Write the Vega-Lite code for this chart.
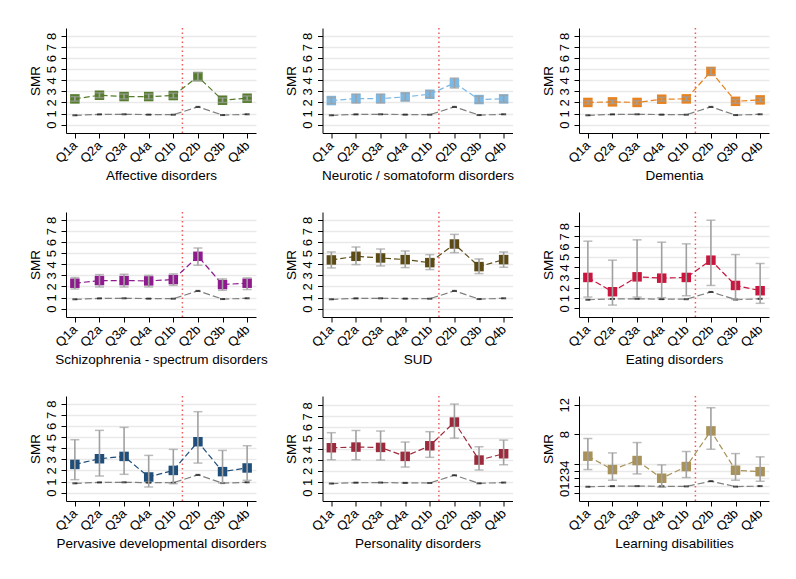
{
"$schema":"https://vega.github.io/schema/vega-lite/v6.json",
"background":"white",
"padding":{"left":28,"top":27,"right":5,"bottom":5},
"datasets":{
"vline":[{"pos":5.37}],
"ref":[
{"q":"Q1a","pos":1,"smr":0.84},{"q":"Q2a","pos":2,"smr":0.92},{"q":"Q3a","pos":3,"smr":0.93},{"q":"Q4a","pos":4,"smr":0.9},
{"q":"Q1b","pos":5,"smr":0.89},{"q":"Q2b","pos":6,"smr":1.6},{"q":"Q3b","pos":7,"smr":0.86},{"q":"Q4b","pos":8,"smr":0.93}],
"main":[
{"d":"Affective disorders","q":"Q1a","pos":1,"smr":2.32,"lo":2.12,"hi":2.52},
{"d":"Affective disorders","q":"Q2a","pos":2,"smr":2.65,"lo":2.43,"hi":2.87},
{"d":"Affective disorders","q":"Q3a","pos":3,"smr":2.53,"lo":2.32,"hi":2.75},
{"d":"Affective disorders","q":"Q4a","pos":4,"smr":2.53,"lo":2.32,"hi":2.75},
{"d":"Affective disorders","q":"Q1b","pos":5,"smr":2.62,"lo":2.4,"hi":2.84},
{"d":"Affective disorders","q":"Q2b","pos":6,"smr":4.33,"lo":3.98,"hi":4.7},
{"d":"Affective disorders","q":"Q3b","pos":7,"smr":2.2,"lo":2.0,"hi":2.4},
{"d":"Affective disorders","q":"Q4b","pos":8,"smr":2.38,"lo":2.18,"hi":2.58},
{"d":"Neurotic / somatoform disorders","q":"Q1a","pos":1,"smr":2.17,"lo":1.9,"hi":2.45},
{"d":"Neurotic / somatoform disorders","q":"Q2a","pos":2,"smr":2.35,"lo":1.95,"hi":2.75},
{"d":"Neurotic / somatoform disorders","q":"Q3a","pos":3,"smr":2.35,"lo":1.95,"hi":2.75},
{"d":"Neurotic / somatoform disorders","q":"Q4a","pos":4,"smr":2.5,"lo":2.15,"hi":2.85},
{"d":"Neurotic / somatoform disorders","q":"Q1b","pos":5,"smr":2.74,"lo":2.45,"hi":3.05},
{"d":"Neurotic / somatoform disorders","q":"Q2b","pos":6,"smr":3.76,"lo":3.3,"hi":4.2},
{"d":"Neurotic / somatoform disorders","q":"Q3b","pos":7,"smr":2.26,"lo":1.95,"hi":2.55},
{"d":"Neurotic / somatoform disorders","q":"Q4b","pos":8,"smr":2.32,"lo":2.0,"hi":2.65},
{"d":"Dementia","q":"Q1a","pos":1,"smr":2.0,"lo":1.85,"hi":2.15},
{"d":"Dementia","q":"Q2a","pos":2,"smr":2.05,"lo":1.9,"hi":2.2},
{"d":"Dementia","q":"Q3a","pos":3,"smr":2.0,"lo":1.85,"hi":2.15},
{"d":"Dementia","q":"Q4a","pos":4,"smr":2.29,"lo":2.12,"hi":2.46},
{"d":"Dementia","q":"Q1b","pos":5,"smr":2.32,"lo":2.15,"hi":2.5},
{"d":"Dementia","q":"Q2b","pos":6,"smr":4.8,"lo":4.5,"hi":5.1},
{"d":"Dementia","q":"Q3b","pos":7,"smr":2.1,"lo":1.93,"hi":2.27},
{"d":"Dementia","q":"Q4b","pos":8,"smr":2.23,"lo":2.06,"hi":2.4},
{"d":"Schizophrenia - spectrum disorders","q":"Q1a","pos":1,"smr":2.29,"lo":1.77,"hi":2.8},
{"d":"Schizophrenia - spectrum disorders","q":"Q2a","pos":2,"smr":2.53,"lo":1.95,"hi":3.07},
{"d":"Schizophrenia - spectrum disorders","q":"Q3a","pos":3,"smr":2.53,"lo":1.95,"hi":3.1},
{"d":"Schizophrenia - spectrum disorders","q":"Q4a","pos":4,"smr":2.5,"lo":1.95,"hi":3.0},
{"d":"Schizophrenia - spectrum disorders","q":"Q1b","pos":5,"smr":2.62,"lo":2.1,"hi":3.13},
{"d":"Schizophrenia - spectrum disorders","q":"Q2b","pos":6,"smr":4.72,"lo":3.91,"hi":5.47},
{"d":"Schizophrenia - spectrum disorders","q":"Q3b","pos":7,"smr":2.17,"lo":1.65,"hi":2.68},
{"d":"Schizophrenia - spectrum disorders","q":"Q4b","pos":8,"smr":2.29,"lo":1.72,"hi":2.77},
{"d":"SUD","q":"Q1a","pos":1,"smr":4.39,"lo":3.67,"hi":5.11},
{"d":"SUD","q":"Q2a","pos":2,"smr":4.72,"lo":3.97,"hi":5.56},
{"d":"SUD","q":"Q3a","pos":3,"smr":4.57,"lo":3.85,"hi":5.38},
{"d":"SUD","q":"Q4a","pos":4,"smr":4.42,"lo":3.7,"hi":5.2},
{"d":"SUD","q":"Q1b","pos":5,"smr":4.15,"lo":3.52,"hi":4.87},
{"d":"SUD","q":"Q2b","pos":6,"smr":5.83,"lo":5.05,"hi":6.7},
{"d":"SUD","q":"Q3b","pos":7,"smr":3.79,"lo":3.16,"hi":4.48},
{"d":"SUD","q":"Q4b","pos":8,"smr":4.42,"lo":3.73,"hi":5.11},
{"d":"Eating disorders","q":"Q1a","pos":1,"smr":3.01,"lo":1.1,"hi":6.54},
{"d":"Eating disorders","q":"Q2a","pos":2,"smr":1.62,"lo":0.32,"hi":4.69},
{"d":"Eating disorders","q":"Q3a","pos":3,"smr":3.07,"lo":1.1,"hi":6.67},
{"d":"Eating disorders","q":"Q4a","pos":4,"smr":2.94,"lo":1.04,"hi":6.44},
{"d":"Eating disorders","q":"Q1b","pos":5,"smr":3.01,"lo":1.23,"hi":6.28},
{"d":"Eating disorders","q":"Q2b","pos":6,"smr":4.69,"lo":2.23,"hi":8.58},
{"d":"Eating disorders","q":"Q3b","pos":7,"smr":2.23,"lo":0.87,"hi":5.24},
{"d":"Eating disorders","q":"Q4b","pos":8,"smr":1.72,"lo":0.49,"hi":4.37},
{"d":"Pervasive developmental disorders","q":"Q1a","pos":1,"smr":2.54,"lo":1.17,"hi":4.76},
{"d":"Pervasive developmental disorders","q":"Q2a","pos":2,"smr":3.05,"lo":1.5,"hi":5.6},
{"d":"Pervasive developmental disorders","q":"Q3a","pos":3,"smr":3.26,"lo":1.65,"hi":5.87},
{"d":"Pervasive developmental disorders","q":"Q4a","pos":4,"smr":1.41,"lo":0.51,"hi":3.35},
{"d":"Pervasive developmental disorders","q":"Q1b","pos":5,"smr":2.0,"lo":0.81,"hi":3.89},
{"d":"Pervasive developmental disorders","q":"Q2b","pos":6,"smr":4.58,"lo":2.66,"hi":7.28},
{"d":"Pervasive developmental disorders","q":"Q3b","pos":7,"smr":1.89,"lo":0.87,"hi":3.8},
{"d":"Pervasive developmental disorders","q":"Q4b","pos":8,"smr":2.22,"lo":1.11,"hi":4.22},
{"d":"Personality disorders","q":"Q1a","pos":1,"smr":4.12,"lo":3.02,"hi":5.5},
{"d":"Personality disorders","q":"Q2a","pos":2,"smr":4.18,"lo":3.02,"hi":5.7},
{"d":"Personality disorders","q":"Q3a","pos":3,"smr":4.15,"lo":2.99,"hi":5.65},
{"d":"Personality disorders","q":"Q4a","pos":4,"smr":3.33,"lo":2.35,"hi":4.64},
{"d":"Personality disorders","q":"Q1b","pos":5,"smr":4.3,"lo":3.24,"hi":5.59},
{"d":"Personality disorders","q":"Q2b","pos":6,"smr":6.47,"lo":5.0,"hi":8.12},
{"d":"Personality disorders","q":"Q3b","pos":7,"smr":2.99,"lo":2.08,"hi":4.21},
{"d":"Personality disorders","q":"Q4b","pos":8,"smr":3.57,"lo":2.56,"hi":4.82},
{"d":"Learning disabilities","q":"Q1a","pos":1,"smr":5.0,"lo":3.18,"hi":7.41},
{"d":"Learning disabilities","q":"Q2a","pos":2,"smr":3.18,"lo":1.73,"hi":5.45},
{"d":"Learning disabilities","q":"Q3a","pos":3,"smr":4.41,"lo":2.59,"hi":6.86},
{"d":"Learning disabilities","q":"Q4a","pos":4,"smr":2.0,"lo":0.77,"hi":3.82},
{"d":"Learning disabilities","q":"Q1b","pos":5,"smr":3.59,"lo":2.09,"hi":5.64},
{"d":"Learning disabilities","q":"Q2b","pos":6,"smr":8.45,"lo":5.95,"hi":11.6},
{"d":"Learning disabilities","q":"Q3b","pos":7,"smr":3.09,"lo":1.73,"hi":5.36},
{"d":"Learning disabilities","q":"Q4b","pos":8,"smr":2.9,"lo":1.59,"hi":4.91}
]},
"columns":3,
"spacing":{"column":66.5,"row":79},
"bounds":"flush",
"concat":[
{"width":190,"height":105,
"encoding":{"x":{"field":"pos","type":"quantitative","scale":{"domain":[0.64,8.36],"nice":false,"zero":false},"axis":{"values":[1,2,3,4,5,6,7,8],"labelExpr":"['','Q1a','Q2a','Q3a','Q4a','Q1b','Q2b','Q3b','Q4b'][datum.value]","title":"Affective disorders"}}},
"layer":[
{"data":{"name":"vline"},"mark":{"type":"rule","color":"#F25A5A","strokeDash":[1.5,3],"strokeWidth":1.5},"encoding":{}},
{"data":{"name":"ref"},"mark":{"type":"line","color":"#808080","strokeDash":[7,3],"strokeWidth":1.2},"encoding":{"y":{"field":"smr","type":"quantitative","scale":{"domain":[-0.76,8.72],"nice":false,"zero":false},"axis":{"values":[0,1,2,3,4,5,6,7,8]},"title":"SMR"}}},
{"data":{"name":"ref"},"mark":{"type":"tick","orient":"horizontal","color":"#111111","size":5,"thickness":2},"encoding":{"y":{"field":"smr","type":"quantitative","scale":{"domain":[-0.76,8.72],"nice":false,"zero":false},"axis":{"values":[0,1,2,3,4,5,6,7,8]},"title":"SMR"}}},
{"data":{"name":"main"},"transform":[{"filter":"datum.d=='Affective disorders'"}],"mark":{"type":"line","color":"#567D2E","strokeDash":[6,3],"strokeWidth":1.2},"encoding":{"y":{"field":"smr","type":"quantitative","scale":{"domain":[-0.76,8.72],"nice":false,"zero":false},"axis":{"values":[0,1,2,3,4,5,6,7,8]},"title":"SMR"}}},
{"data":{"name":"main"},"transform":[{"filter":"datum.d=='Affective disorders'"}],"mark":{"type":"point","shape":"square","filled":true,"opacity":1,"color":"#567D2E","size":90},"encoding":{"y":{"field":"smr","type":"quantitative","scale":{"domain":[-0.76,8.72],"nice":false,"zero":false},"axis":{"values":[0,1,2,3,4,5,6,7,8]},"title":"SMR"}}},
{"data":{"name":"main"},"transform":[{"filter":"datum.d=='Affective disorders'"}],"mark":{"type":"rule","color":"#A0A0A0","strokeWidth":1.6},"encoding":{"y":{"field":"lo","type":"quantitative","scale":{"domain":[-0.76,8.72],"nice":false,"zero":false},"axis":{"values":[0,1,2,3,4,5,6,7,8]},"title":"SMR"},"y2":{"field":"hi"}}},
{"data":{"name":"main"},"transform":[{"filter":"datum.d=='Affective disorders'"}],"mark":{"type":"tick","orient":"horizontal","color":"#A0A0A0","size":9,"thickness":1.5},"encoding":{"y":{"field":"lo","type":"quantitative","scale":{"domain":[-0.76,8.72],"nice":false,"zero":false},"axis":{"values":[0,1,2,3,4,5,6,7,8]},"title":"SMR"}}},
{"data":{"name":"main"},"transform":[{"filter":"datum.d=='Affective disorders'"}],"mark":{"type":"tick","orient":"horizontal","color":"#A0A0A0","size":9,"thickness":1.5},"encoding":{"y":{"field":"hi","type":"quantitative","scale":{"domain":[-0.76,8.72],"nice":false,"zero":false},"axis":{"values":[0,1,2,3,4,5,6,7,8]},"title":"SMR"}}}
]},
{"width":190,"height":105,
"encoding":{"x":{"field":"pos","type":"quantitative","scale":{"domain":[0.64,8.36],"nice":false,"zero":false},"axis":{"values":[1,2,3,4,5,6,7,8],"labelExpr":"['','Q1a','Q2a','Q3a','Q4a','Q1b','Q2b','Q3b','Q4b'][datum.value]","title":"Neurotic / somatoform disorders"}}},
"layer":[
{"data":{"name":"vline"},"mark":{"type":"rule","color":"#F25A5A","strokeDash":[1.5,3],"strokeWidth":1.5},"encoding":{}},
{"data":{"name":"ref"},"mark":{"type":"line","color":"#808080","strokeDash":[7,3],"strokeWidth":1.2},"encoding":{"y":{"field":"smr","type":"quantitative","scale":{"domain":[-0.76,8.72],"nice":false,"zero":false},"axis":{"values":[0,1,2,3,4,5,6,7,8]},"title":"SMR"}}},
{"data":{"name":"ref"},"mark":{"type":"tick","orient":"horizontal","color":"#111111","size":5,"thickness":2},"encoding":{"y":{"field":"smr","type":"quantitative","scale":{"domain":[-0.76,8.72],"nice":false,"zero":false},"axis":{"values":[0,1,2,3,4,5,6,7,8]},"title":"SMR"}}},
{"data":{"name":"main"},"transform":[{"filter":"datum.d=='Neurotic / somatoform disorders'"}],"mark":{"type":"line","color":"#7DB8E3","strokeDash":[6,3],"strokeWidth":1.2},"encoding":{"y":{"field":"smr","type":"quantitative","scale":{"domain":[-0.76,8.72],"nice":false,"zero":false},"axis":{"values":[0,1,2,3,4,5,6,7,8]},"title":"SMR"}}},
{"data":{"name":"main"},"transform":[{"filter":"datum.d=='Neurotic / somatoform disorders'"}],"mark":{"type":"point","shape":"square","filled":true,"opacity":1,"color":"#7DB8E3","size":90},"encoding":{"y":{"field":"smr","type":"quantitative","scale":{"domain":[-0.76,8.72],"nice":false,"zero":false},"axis":{"values":[0,1,2,3,4,5,6,7,8]},"title":"SMR"}}},
{"data":{"name":"main"},"transform":[{"filter":"datum.d=='Neurotic / somatoform disorders'"}],"mark":{"type":"rule","color":"#A0A0A0","strokeWidth":1.6},"encoding":{"y":{"field":"lo","type":"quantitative","scale":{"domain":[-0.76,8.72],"nice":false,"zero":false},"axis":{"values":[0,1,2,3,4,5,6,7,8]},"title":"SMR"},"y2":{"field":"hi"}}},
{"data":{"name":"main"},"transform":[{"filter":"datum.d=='Neurotic / somatoform disorders'"}],"mark":{"type":"tick","orient":"horizontal","color":"#A0A0A0","size":9,"thickness":1.5},"encoding":{"y":{"field":"lo","type":"quantitative","scale":{"domain":[-0.76,8.72],"nice":false,"zero":false},"axis":{"values":[0,1,2,3,4,5,6,7,8]},"title":"SMR"}}},
{"data":{"name":"main"},"transform":[{"filter":"datum.d=='Neurotic / somatoform disorders'"}],"mark":{"type":"tick","orient":"horizontal","color":"#A0A0A0","size":9,"thickness":1.5},"encoding":{"y":{"field":"hi","type":"quantitative","scale":{"domain":[-0.76,8.72],"nice":false,"zero":false},"axis":{"values":[0,1,2,3,4,5,6,7,8]},"title":"SMR"}}}
]},
{"width":190,"height":105,
"encoding":{"x":{"field":"pos","type":"quantitative","scale":{"domain":[0.64,8.36],"nice":false,"zero":false},"axis":{"values":[1,2,3,4,5,6,7,8],"labelExpr":"['','Q1a','Q2a','Q3a','Q4a','Q1b','Q2b','Q3b','Q4b'][datum.value]","title":"Dementia"}}},
"layer":[
{"data":{"name":"vline"},"mark":{"type":"rule","color":"#F25A5A","strokeDash":[1.5,3],"strokeWidth":1.5},"encoding":{}},
{"data":{"name":"ref"},"mark":{"type":"line","color":"#808080","strokeDash":[7,3],"strokeWidth":1.2},"encoding":{"y":{"field":"smr","type":"quantitative","scale":{"domain":[-0.76,8.72],"nice":false,"zero":false},"axis":{"values":[0,1,2,3,4,5,6,7,8]},"title":"SMR"}}},
{"data":{"name":"ref"},"mark":{"type":"tick","orient":"horizontal","color":"#111111","size":5,"thickness":2},"encoding":{"y":{"field":"smr","type":"quantitative","scale":{"domain":[-0.76,8.72],"nice":false,"zero":false},"axis":{"values":[0,1,2,3,4,5,6,7,8]},"title":"SMR"}}},
{"data":{"name":"main"},"transform":[{"filter":"datum.d=='Dementia'"}],"mark":{"type":"line","color":"#E8821E","strokeDash":[6,3],"strokeWidth":1.2},"encoding":{"y":{"field":"smr","type":"quantitative","scale":{"domain":[-0.76,8.72],"nice":false,"zero":false},"axis":{"values":[0,1,2,3,4,5,6,7,8]},"title":"SMR"}}},
{"data":{"name":"main"},"transform":[{"filter":"datum.d=='Dementia'"}],"mark":{"type":"point","shape":"square","filled":true,"opacity":1,"color":"#E8821E","size":90},"encoding":{"y":{"field":"smr","type":"quantitative","scale":{"domain":[-0.76,8.72],"nice":false,"zero":false},"axis":{"values":[0,1,2,3,4,5,6,7,8]},"title":"SMR"}}},
{"data":{"name":"main"},"transform":[{"filter":"datum.d=='Dementia'"}],"mark":{"type":"rule","color":"#A0A0A0","strokeWidth":1.6},"encoding":{"y":{"field":"lo","type":"quantitative","scale":{"domain":[-0.76,8.72],"nice":false,"zero":false},"axis":{"values":[0,1,2,3,4,5,6,7,8]},"title":"SMR"},"y2":{"field":"hi"}}},
{"data":{"name":"main"},"transform":[{"filter":"datum.d=='Dementia'"}],"mark":{"type":"tick","orient":"horizontal","color":"#A0A0A0","size":9,"thickness":1.5},"encoding":{"y":{"field":"lo","type":"quantitative","scale":{"domain":[-0.76,8.72],"nice":false,"zero":false},"axis":{"values":[0,1,2,3,4,5,6,7,8]},"title":"SMR"}}},
{"data":{"name":"main"},"transform":[{"filter":"datum.d=='Dementia'"}],"mark":{"type":"tick","orient":"horizontal","color":"#A0A0A0","size":9,"thickness":1.5},"encoding":{"y":{"field":"hi","type":"quantitative","scale":{"domain":[-0.76,8.72],"nice":false,"zero":false},"axis":{"values":[0,1,2,3,4,5,6,7,8]},"title":"SMR"}}}
]},
{"width":190,"height":105,
"encoding":{"x":{"field":"pos","type":"quantitative","scale":{"domain":[0.64,8.36],"nice":false,"zero":false},"axis":{"values":[1,2,3,4,5,6,7,8],"labelExpr":"['','Q1a','Q2a','Q3a','Q4a','Q1b','Q2b','Q3b','Q4b'][datum.value]","title":"Schizophrenia - spectrum disorders"}}},
"layer":[
{"data":{"name":"vline"},"mark":{"type":"rule","color":"#F25A5A","strokeDash":[1.5,3],"strokeWidth":1.5},"encoding":{}},
{"data":{"name":"ref"},"mark":{"type":"line","color":"#808080","strokeDash":[7,3],"strokeWidth":1.2},"encoding":{"y":{"field":"smr","type":"quantitative","scale":{"domain":[-0.76,8.72],"nice":false,"zero":false},"axis":{"values":[0,1,2,3,4,5,6,7,8]},"title":"SMR"}}},
{"data":{"name":"ref"},"mark":{"type":"tick","orient":"horizontal","color":"#111111","size":5,"thickness":2},"encoding":{"y":{"field":"smr","type":"quantitative","scale":{"domain":[-0.76,8.72],"nice":false,"zero":false},"axis":{"values":[0,1,2,3,4,5,6,7,8]},"title":"SMR"}}},
{"data":{"name":"main"},"transform":[{"filter":"datum.d=='Schizophrenia - spectrum disorders'"}],"mark":{"type":"line","color":"#8E1A8E","strokeDash":[6,3],"strokeWidth":1.2},"encoding":{"y":{"field":"smr","type":"quantitative","scale":{"domain":[-0.76,8.72],"nice":false,"zero":false},"axis":{"values":[0,1,2,3,4,5,6,7,8]},"title":"SMR"}}},
{"data":{"name":"main"},"transform":[{"filter":"datum.d=='Schizophrenia - spectrum disorders'"}],"mark":{"type":"point","shape":"square","filled":true,"opacity":1,"color":"#8E1A8E","size":90},"encoding":{"y":{"field":"smr","type":"quantitative","scale":{"domain":[-0.76,8.72],"nice":false,"zero":false},"axis":{"values":[0,1,2,3,4,5,6,7,8]},"title":"SMR"}}},
{"data":{"name":"main"},"transform":[{"filter":"datum.d=='Schizophrenia - spectrum disorders'"}],"mark":{"type":"rule","color":"#A0A0A0","strokeWidth":1.6},"encoding":{"y":{"field":"lo","type":"quantitative","scale":{"domain":[-0.76,8.72],"nice":false,"zero":false},"axis":{"values":[0,1,2,3,4,5,6,7,8]},"title":"SMR"},"y2":{"field":"hi"}}},
{"data":{"name":"main"},"transform":[{"filter":"datum.d=='Schizophrenia - spectrum disorders'"}],"mark":{"type":"tick","orient":"horizontal","color":"#A0A0A0","size":9,"thickness":1.5},"encoding":{"y":{"field":"lo","type":"quantitative","scale":{"domain":[-0.76,8.72],"nice":false,"zero":false},"axis":{"values":[0,1,2,3,4,5,6,7,8]},"title":"SMR"}}},
{"data":{"name":"main"},"transform":[{"filter":"datum.d=='Schizophrenia - spectrum disorders'"}],"mark":{"type":"tick","orient":"horizontal","color":"#A0A0A0","size":9,"thickness":1.5},"encoding":{"y":{"field":"hi","type":"quantitative","scale":{"domain":[-0.76,8.72],"nice":false,"zero":false},"axis":{"values":[0,1,2,3,4,5,6,7,8]},"title":"SMR"}}}
]},
{"width":190,"height":105,
"encoding":{"x":{"field":"pos","type":"quantitative","scale":{"domain":[0.64,8.36],"nice":false,"zero":false},"axis":{"values":[1,2,3,4,5,6,7,8],"labelExpr":"['','Q1a','Q2a','Q3a','Q4a','Q1b','Q2b','Q3b','Q4b'][datum.value]","title":"SUD"}}},
"layer":[
{"data":{"name":"vline"},"mark":{"type":"rule","color":"#F25A5A","strokeDash":[1.5,3],"strokeWidth":1.5},"encoding":{}},
{"data":{"name":"ref"},"mark":{"type":"line","color":"#808080","strokeDash":[7,3],"strokeWidth":1.2},"encoding":{"y":{"field":"smr","type":"quantitative","scale":{"domain":[-0.76,8.72],"nice":false,"zero":false},"axis":{"values":[0,1,2,3,4,5,6,7,8]},"title":"SMR"}}},
{"data":{"name":"ref"},"mark":{"type":"tick","orient":"horizontal","color":"#111111","size":5,"thickness":2},"encoding":{"y":{"field":"smr","type":"quantitative","scale":{"domain":[-0.76,8.72],"nice":false,"zero":false},"axis":{"values":[0,1,2,3,4,5,6,7,8]},"title":"SMR"}}},
{"data":{"name":"main"},"transform":[{"filter":"datum.d=='SUD'"}],"mark":{"type":"line","color":"#5C4A14","strokeDash":[6,3],"strokeWidth":1.2},"encoding":{"y":{"field":"smr","type":"quantitative","scale":{"domain":[-0.76,8.72],"nice":false,"zero":false},"axis":{"values":[0,1,2,3,4,5,6,7,8]},"title":"SMR"}}},
{"data":{"name":"main"},"transform":[{"filter":"datum.d=='SUD'"}],"mark":{"type":"point","shape":"square","filled":true,"opacity":1,"color":"#5C4A14","size":90},"encoding":{"y":{"field":"smr","type":"quantitative","scale":{"domain":[-0.76,8.72],"nice":false,"zero":false},"axis":{"values":[0,1,2,3,4,5,6,7,8]},"title":"SMR"}}},
{"data":{"name":"main"},"transform":[{"filter":"datum.d=='SUD'"}],"mark":{"type":"rule","color":"#A0A0A0","strokeWidth":1.6},"encoding":{"y":{"field":"lo","type":"quantitative","scale":{"domain":[-0.76,8.72],"nice":false,"zero":false},"axis":{"values":[0,1,2,3,4,5,6,7,8]},"title":"SMR"},"y2":{"field":"hi"}}},
{"data":{"name":"main"},"transform":[{"filter":"datum.d=='SUD'"}],"mark":{"type":"tick","orient":"horizontal","color":"#A0A0A0","size":9,"thickness":1.5},"encoding":{"y":{"field":"lo","type":"quantitative","scale":{"domain":[-0.76,8.72],"nice":false,"zero":false},"axis":{"values":[0,1,2,3,4,5,6,7,8]},"title":"SMR"}}},
{"data":{"name":"main"},"transform":[{"filter":"datum.d=='SUD'"}],"mark":{"type":"tick","orient":"horizontal","color":"#A0A0A0","size":9,"thickness":1.5},"encoding":{"y":{"field":"hi","type":"quantitative","scale":{"domain":[-0.76,8.72],"nice":false,"zero":false},"axis":{"values":[0,1,2,3,4,5,6,7,8]},"title":"SMR"}}}
]},
{"width":190,"height":105,
"encoding":{"x":{"field":"pos","type":"quantitative","scale":{"domain":[0.64,8.36],"nice":false,"zero":false},"axis":{"values":[1,2,3,4,5,6,7,8],"labelExpr":"['','Q1a','Q2a','Q3a','Q4a','Q1b','Q2b','Q3b','Q4b'][datum.value]","title":"Eating disorders"}}},
"layer":[
{"data":{"name":"vline"},"mark":{"type":"rule","color":"#F25A5A","strokeDash":[1.5,3],"strokeWidth":1.5},"encoding":{}},
{"data":{"name":"ref"},"mark":{"type":"line","color":"#808080","strokeDash":[7,3],"strokeWidth":1.2},"encoding":{"y":{"field":"smr","type":"quantitative","scale":{"domain":[-0.84,9.38],"nice":false,"zero":false},"axis":{"values":[0,1,2,3,4,5,6,7,8]},"title":"SMR"}}},
{"data":{"name":"ref"},"mark":{"type":"tick","orient":"horizontal","color":"#111111","size":5,"thickness":2},"encoding":{"y":{"field":"smr","type":"quantitative","scale":{"domain":[-0.84,9.38],"nice":false,"zero":false},"axis":{"values":[0,1,2,3,4,5,6,7,8]},"title":"SMR"}}},
{"data":{"name":"main"},"transform":[{"filter":"datum.d=='Eating disorders'"}],"mark":{"type":"line","color":"#C8163F","strokeDash":[6,3],"strokeWidth":1.2},"encoding":{"y":{"field":"smr","type":"quantitative","scale":{"domain":[-0.84,9.38],"nice":false,"zero":false},"axis":{"values":[0,1,2,3,4,5,6,7,8]},"title":"SMR"}}},
{"data":{"name":"main"},"transform":[{"filter":"datum.d=='Eating disorders'"}],"mark":{"type":"point","shape":"square","filled":true,"opacity":1,"color":"#C8163F","size":90},"encoding":{"y":{"field":"smr","type":"quantitative","scale":{"domain":[-0.84,9.38],"nice":false,"zero":false},"axis":{"values":[0,1,2,3,4,5,6,7,8]},"title":"SMR"}}},
{"data":{"name":"main"},"transform":[{"filter":"datum.d=='Eating disorders'"}],"mark":{"type":"rule","color":"#A0A0A0","strokeWidth":1.6},"encoding":{"y":{"field":"lo","type":"quantitative","scale":{"domain":[-0.84,9.38],"nice":false,"zero":false},"axis":{"values":[0,1,2,3,4,5,6,7,8]},"title":"SMR"},"y2":{"field":"hi"}}},
{"data":{"name":"main"},"transform":[{"filter":"datum.d=='Eating disorders'"}],"mark":{"type":"tick","orient":"horizontal","color":"#A0A0A0","size":9,"thickness":1.5},"encoding":{"y":{"field":"lo","type":"quantitative","scale":{"domain":[-0.84,9.38],"nice":false,"zero":false},"axis":{"values":[0,1,2,3,4,5,6,7,8]},"title":"SMR"}}},
{"data":{"name":"main"},"transform":[{"filter":"datum.d=='Eating disorders'"}],"mark":{"type":"tick","orient":"horizontal","color":"#A0A0A0","size":9,"thickness":1.5},"encoding":{"y":{"field":"hi","type":"quantitative","scale":{"domain":[-0.84,9.38],"nice":false,"zero":false},"axis":{"values":[0,1,2,3,4,5,6,7,8]},"title":"SMR"}}}
]},
{"width":190,"height":105,
"encoding":{"x":{"field":"pos","type":"quantitative","scale":{"domain":[0.64,8.36],"nice":false,"zero":false},"axis":{"values":[1,2,3,4,5,6,7,8],"labelExpr":"['','Q1a','Q2a','Q3a','Q4a','Q1b','Q2b','Q3b','Q4b'][datum.value]","title":"Pervasive developmental disorders"}}},
"layer":[
{"data":{"name":"vline"},"mark":{"type":"rule","color":"#F25A5A","strokeDash":[1.5,3],"strokeWidth":1.5},"encoding":{}},
{"data":{"name":"ref"},"mark":{"type":"line","color":"#808080","strokeDash":[7,3],"strokeWidth":1.2},"encoding":{"y":{"field":"smr","type":"quantitative","scale":{"domain":[-0.75,8.69],"nice":false,"zero":false},"axis":{"values":[0,1,2,3,4,5,6,7,8]},"title":"SMR"}}},
{"data":{"name":"ref"},"mark":{"type":"tick","orient":"horizontal","color":"#111111","size":5,"thickness":2},"encoding":{"y":{"field":"smr","type":"quantitative","scale":{"domain":[-0.75,8.69],"nice":false,"zero":false},"axis":{"values":[0,1,2,3,4,5,6,7,8]},"title":"SMR"}}},
{"data":{"name":"main"},"transform":[{"filter":"datum.d=='Pervasive developmental disorders'"}],"mark":{"type":"line","color":"#1F4E7A","strokeDash":[6,3],"strokeWidth":1.2},"encoding":{"y":{"field":"smr","type":"quantitative","scale":{"domain":[-0.75,8.69],"nice":false,"zero":false},"axis":{"values":[0,1,2,3,4,5,6,7,8]},"title":"SMR"}}},
{"data":{"name":"main"},"transform":[{"filter":"datum.d=='Pervasive developmental disorders'"}],"mark":{"type":"point","shape":"square","filled":true,"opacity":1,"color":"#1F4E7A","size":90},"encoding":{"y":{"field":"smr","type":"quantitative","scale":{"domain":[-0.75,8.69],"nice":false,"zero":false},"axis":{"values":[0,1,2,3,4,5,6,7,8]},"title":"SMR"}}},
{"data":{"name":"main"},"transform":[{"filter":"datum.d=='Pervasive developmental disorders'"}],"mark":{"type":"rule","color":"#A0A0A0","strokeWidth":1.6},"encoding":{"y":{"field":"lo","type":"quantitative","scale":{"domain":[-0.75,8.69],"nice":false,"zero":false},"axis":{"values":[0,1,2,3,4,5,6,7,8]},"title":"SMR"},"y2":{"field":"hi"}}},
{"data":{"name":"main"},"transform":[{"filter":"datum.d=='Pervasive developmental disorders'"}],"mark":{"type":"tick","orient":"horizontal","color":"#A0A0A0","size":9,"thickness":1.5},"encoding":{"y":{"field":"lo","type":"quantitative","scale":{"domain":[-0.75,8.69],"nice":false,"zero":false},"axis":{"values":[0,1,2,3,4,5,6,7,8]},"title":"SMR"}}},
{"data":{"name":"main"},"transform":[{"filter":"datum.d=='Pervasive developmental disorders'"}],"mark":{"type":"tick","orient":"horizontal","color":"#A0A0A0","size":9,"thickness":1.5},"encoding":{"y":{"field":"hi","type":"quantitative","scale":{"domain":[-0.75,8.69],"nice":false,"zero":false},"axis":{"values":[0,1,2,3,4,5,6,7,8]},"title":"SMR"}}}
]},
{"width":190,"height":105,
"encoding":{"x":{"field":"pos","type":"quantitative","scale":{"domain":[0.64,8.36],"nice":false,"zero":false},"axis":{"values":[1,2,3,4,5,6,7,8],"labelExpr":"['','Q1a','Q2a','Q3a','Q4a','Q1b','Q2b','Q3b','Q4b'][datum.value]","title":"Personality disorders"}}},
"layer":[
{"data":{"name":"vline"},"mark":{"type":"rule","color":"#F25A5A","strokeDash":[1.5,3],"strokeWidth":1.5},"encoding":{}},
{"data":{"name":"ref"},"mark":{"type":"line","color":"#808080","strokeDash":[7,3],"strokeWidth":1.2},"encoding":{"y":{"field":"smr","type":"quantitative","scale":{"domain":[-0.76,8.86],"nice":false,"zero":false},"axis":{"values":[0,1,2,3,4,5,6,7,8]},"title":"SMR"}}},
{"data":{"name":"ref"},"mark":{"type":"tick","orient":"horizontal","color":"#111111","size":5,"thickness":2},"encoding":{"y":{"field":"smr","type":"quantitative","scale":{"domain":[-0.76,8.86],"nice":false,"zero":false},"axis":{"values":[0,1,2,3,4,5,6,7,8]},"title":"SMR"}}},
{"data":{"name":"main"},"transform":[{"filter":"datum.d=='Personality disorders'"}],"mark":{"type":"line","color":"#9A2A3C","strokeDash":[6,3],"strokeWidth":1.2},"encoding":{"y":{"field":"smr","type":"quantitative","scale":{"domain":[-0.76,8.86],"nice":false,"zero":false},"axis":{"values":[0,1,2,3,4,5,6,7,8]},"title":"SMR"}}},
{"data":{"name":"main"},"transform":[{"filter":"datum.d=='Personality disorders'"}],"mark":{"type":"point","shape":"square","filled":true,"opacity":1,"color":"#9A2A3C","size":90},"encoding":{"y":{"field":"smr","type":"quantitative","scale":{"domain":[-0.76,8.86],"nice":false,"zero":false},"axis":{"values":[0,1,2,3,4,5,6,7,8]},"title":"SMR"}}},
{"data":{"name":"main"},"transform":[{"filter":"datum.d=='Personality disorders'"}],"mark":{"type":"rule","color":"#A0A0A0","strokeWidth":1.6},"encoding":{"y":{"field":"lo","type":"quantitative","scale":{"domain":[-0.76,8.86],"nice":false,"zero":false},"axis":{"values":[0,1,2,3,4,5,6,7,8]},"title":"SMR"},"y2":{"field":"hi"}}},
{"data":{"name":"main"},"transform":[{"filter":"datum.d=='Personality disorders'"}],"mark":{"type":"tick","orient":"horizontal","color":"#A0A0A0","size":9,"thickness":1.5},"encoding":{"y":{"field":"lo","type":"quantitative","scale":{"domain":[-0.76,8.86],"nice":false,"zero":false},"axis":{"values":[0,1,2,3,4,5,6,7,8]},"title":"SMR"}}},
{"data":{"name":"main"},"transform":[{"filter":"datum.d=='Personality disorders'"}],"mark":{"type":"tick","orient":"horizontal","color":"#A0A0A0","size":9,"thickness":1.5},"encoding":{"y":{"field":"hi","type":"quantitative","scale":{"domain":[-0.76,8.86],"nice":false,"zero":false},"axis":{"values":[0,1,2,3,4,5,6,7,8]},"title":"SMR"}}}
]},
{"width":190,"height":105,
"encoding":{"x":{"field":"pos","type":"quantitative","scale":{"domain":[0.64,8.36],"nice":false,"zero":false},"axis":{"values":[1,2,3,4,5,6,7,8],"labelExpr":"['','Q1a','Q2a','Q3a','Q4a','Q1b','Q2b','Q3b','Q4b'][datum.value]","title":"Learning disabilities"}}},
"layer":[
{"data":{"name":"vline"},"mark":{"type":"rule","color":"#F25A5A","strokeDash":[1.5,3],"strokeWidth":1.5},"encoding":{}},
{"data":{"name":"ref"},"mark":{"type":"line","color":"#808080","strokeDash":[7,3],"strokeWidth":1.2},"encoding":{"y":{"field":"smr","type":"quantitative","scale":{"domain":[-1.1,13.2],"nice":false,"zero":false},"axis":{"values":[0,1,2,3,4,8,12]},"title":"SMR"}}},
{"data":{"name":"ref"},"mark":{"type":"tick","orient":"horizontal","color":"#111111","size":5,"thickness":2},"encoding":{"y":{"field":"smr","type":"quantitative","scale":{"domain":[-1.1,13.2],"nice":false,"zero":false},"axis":{"values":[0,1,2,3,4,8,12]},"title":"SMR"}}},
{"data":{"name":"main"},"transform":[{"filter":"datum.d=='Learning disabilities'"}],"mark":{"type":"line","color":"#A8925A","strokeDash":[6,3],"strokeWidth":1.2},"encoding":{"y":{"field":"smr","type":"quantitative","scale":{"domain":[-1.1,13.2],"nice":false,"zero":false},"axis":{"values":[0,1,2,3,4,8,12]},"title":"SMR"}}},
{"data":{"name":"main"},"transform":[{"filter":"datum.d=='Learning disabilities'"}],"mark":{"type":"point","shape":"square","filled":true,"opacity":1,"color":"#A8925A","size":90},"encoding":{"y":{"field":"smr","type":"quantitative","scale":{"domain":[-1.1,13.2],"nice":false,"zero":false},"axis":{"values":[0,1,2,3,4,8,12]},"title":"SMR"}}},
{"data":{"name":"main"},"transform":[{"filter":"datum.d=='Learning disabilities'"}],"mark":{"type":"rule","color":"#A0A0A0","strokeWidth":1.6},"encoding":{"y":{"field":"lo","type":"quantitative","scale":{"domain":[-1.1,13.2],"nice":false,"zero":false},"axis":{"values":[0,1,2,3,4,8,12]},"title":"SMR"},"y2":{"field":"hi"}}},
{"data":{"name":"main"},"transform":[{"filter":"datum.d=='Learning disabilities'"}],"mark":{"type":"tick","orient":"horizontal","color":"#A0A0A0","size":9,"thickness":1.5},"encoding":{"y":{"field":"lo","type":"quantitative","scale":{"domain":[-1.1,13.2],"nice":false,"zero":false},"axis":{"values":[0,1,2,3,4,8,12]},"title":"SMR"}}},
{"data":{"name":"main"},"transform":[{"filter":"datum.d=='Learning disabilities'"}],"mark":{"type":"tick","orient":"horizontal","color":"#A0A0A0","size":9,"thickness":1.5},"encoding":{"y":{"field":"hi","type":"quantitative","scale":{"domain":[-1.1,13.2],"nice":false,"zero":false},"axis":{"values":[0,1,2,3,4,8,12]},"title":"SMR"}}}
]}
],
"config":{
"view":{"stroke":null},
"font":"Liberation Sans",
"axis":{"domainColor":"#000000","domainWidth":1,"tickColor":"#000000","tickSize":5,"tickWidth":1,"labelFont":"Liberation Sans","labelFontSize":12.5,"labelColor":"#000000","labelPadding":3,"labelOverlap":false,"labelFlush":false,"titleFont":"Liberation Sans","titleFontSize":13.5,"titleFontWeight":"normal","titleColor":"#000000","gridColor":"#E9E9E9","gridWidth":1.5},
"axisX":{"grid":false,"labelAngle":-45,"labelAlign":"right","labelBaseline":"middle","labelFontSize":13,"labelPadding":5,"titlePadding":3},
"axisY":{"grid":true,"labelAngle":-90,"labelAlign":"center","labelBaseline":"bottom","labelFontSize":13,"titlePadding":3}
}
}
